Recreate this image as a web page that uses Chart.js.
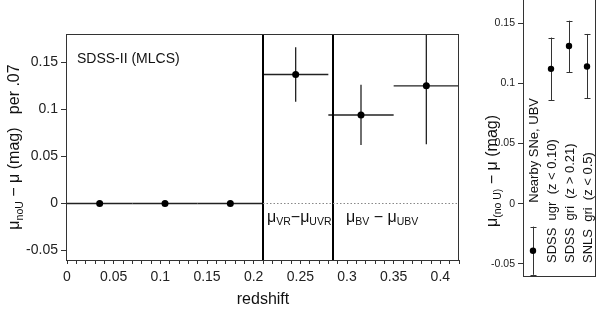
<!DOCTYPE html>
<html><head><meta charset="utf-8">
<script src="https://cdn.jsdelivr.net/npm/chart.js@4.4.0/dist/chart.umd.min.js"></script>
<style>
html,body{margin:0;padding:0;background:#fff;}
#wrap{position:relative;width:600px;height:309px;overflow:hidden;background:#fff;}
#left{position:absolute;left:0;top:0;}
#right{position:absolute;left:470px;top:-20px;}
</style></head><body>
<div id="wrap">
<canvas id="left" width="470" height="309"></canvas>
<canvas id="right" width="130" height="329"></canvas>
</div>
<script>
const FAM = '"Liberation Sans", Arial, Helvetica, sans-serif';

// ---- Left panel data (redshift bins) ----
const lowZ      = [0.035, 0.105, 0.175];
const lowMu     = [0, 0, 0];
const lowBinLo  = [0.00, 0.07, 0.14];
const lowBinHi  = [0.07, 0.14, 0.21];
const highZ     = [0.245, 0.315, 0.385];
const highMu    = [0.137, 0.094, 0.125];
const highErrLo = [0.108, 0.062, 0.063];
const highErrHi = [0.166, 0.126, 0.187];
const highBinLo = [0.21, 0.28, 0.35];
const highBinHi = [0.28, 0.35, 0.42];
const filterBreaks = [0.21, 0.285];
const xRange = [0, 0.42];
const yRange = [-0.06, 0.18];
const xTickStep = 0.01, xLabelStep = 0.05, yTickStep = 0.05;

// ---- Right panel data (samples) ----
const sampleLabels = ['Nearby SNe, UBV', 'SDSS  ugr  (z < 0.10)', 'SDSS  gri  (z > 0.21)', 'SNLS  gri  (z < 0.5)'];
const sampleMu    = [-0.039, 0.112, 0.131, 0.114];
const sampleErrLo = [-0.059, 0.086, 0.109, 0.0875];
const sampleErrHi = [-0.019, 0.138, 0.152, 0.141];
const rYRange = [-0.06, 0.175];

Chart.defaults.font.family = FAM;
Chart.defaults.color = '#222';

function fmtTick(v, step) {
  const r = Math.round(v * 1000) / 1000;
  const q = r / step;
  if (Math.abs(q - Math.round(q)) > 1e-6) return '';
  return String(Math.round(r * 100) / 100);
}

function drawRich(ctx, segs, x, y, center) {
  let w = 0;
  segs.forEach(s => { ctx.font = s.size + 'px ' + FAM; s.w = ctx.measureText(s.t).width; w += s.w; });
  let cx = center ? x - w / 2 : x;
  segs.forEach(s => { ctx.font = s.size + 'px ' + FAM; ctx.fillText(s.t, cx, y + (s.dy || 0)); cx += s.w; });
}

function seg(ctx, x0, y0, x1, y1) { ctx.beginPath(); ctx.moveTo(x0, y0); ctx.lineTo(x1, y1); ctx.stroke(); }

function strokeBox(ctx, a) {
  ctx.save();
  ctx.strokeStyle = '#333'; ctx.lineWidth = 1;
  const l = Math.round(a.left) - 0.5, t = Math.round(a.top) + 0.5;
  const r = Math.round(a.right) - 0.5, b = Math.round(a.bottom) + 0.5;
  ctx.strokeRect(l, t, r - l, b - t);
  ctx.restore();
}

const leftDecor = {
  id: 'leftDecor',
  beforeDatasetsDraw(chart) {
    const {ctx, chartArea: a, scales: {x, y}} = chart;
    ctx.save();
    ctx.beginPath(); ctx.rect(a.left, a.top, a.right - a.left, a.bottom - a.top); ctx.clip();
    ctx.strokeStyle = '#222'; ctx.lineWidth = 1.3;
    lowZ.forEach((z, i) => {
      const py = y.getPixelForValue(lowMu[i]);
      seg(ctx, x.getPixelForValue(lowBinLo[i]), py, x.getPixelForValue(lowBinHi[i]), py);
    });
    highZ.forEach((z, i) => {
      const px = x.getPixelForValue(z), py = y.getPixelForValue(highMu[i]);
      seg(ctx, x.getPixelForValue(highBinLo[i]), py, x.getPixelForValue(highBinHi[i]), py);
      seg(ctx, px, y.getPixelForValue(highErrLo[i]), px, y.getPixelForValue(highErrHi[i]));
    });
    ctx.strokeStyle = '#000'; ctx.lineWidth = 2;
    filterBreaks.forEach(b => { const px = Math.round(x.getPixelForValue(b)); seg(ctx, px, a.top, px, a.bottom); });
    ctx.restore();
  },
  afterDatasetsDraw(chart) {
    const {ctx, chartArea: a, scales: {x, y}} = chart;
    strokeBox(ctx, a);
    ctx.save();
    ctx.fillStyle = '#111'; ctx.textBaseline = 'alphabetic'; ctx.textAlign = 'left';
    ctx.font = '14px ' + FAM;
    ctx.fillText('SDSS-II (MLCS)', a.left + 10, a.top + 29);
    const y0 = y.getPixelForValue(0) + 18;
    drawRich(ctx, [{t:'μ', size:16}, {t:'VR', size:10.5, dy:3}, {t:'−μ', size:16}, {t:'UVR', size:10.5, dy:3}],
      x.getPixelForValue(filterBreaks[0]) + 4, y0, false);
    drawRich(ctx, [{t:'μ', size:16}, {t:'BV', size:10.5, dy:3}, {t:' − μ', size:16}, {t:'UBV', size:10.5, dy:3}],
      x.getPixelForValue(filterBreaks[1]) + 13, y0, false);
    // y title
    ctx.translate(19, (a.top + a.bottom) / 2);
    ctx.rotate(-Math.PI / 2);
    drawRich(ctx, [{t:'μ', size:16}, {t:'noU', size:10.5, dy:4}, {t:' − μ (mag)   per .07', size:16}], 0, 0, true);
    ctx.restore();
  }
};

new Chart(document.getElementById('left'), {
  type: 'scatter',
  data: {
    datasets: [
      { type: 'line', data: [{x: filterBreaks[0], y: 0}, {x: xRange[1], y: 0}], borderColor: '#888', borderWidth: 1,
        borderDash: [1.5, 2], pointRadius: 0, fill: false },
      { data: lowZ.map((z, i) => ({x: z, y: lowMu[i]})), pointRadius: 3.5, pointBackgroundColor: '#000', pointBorderColor: '#000', pointBorderWidth: 0 },
      { data: highZ.map((z, i) => ({x: z, y: highMu[i]})), pointRadius: 3.5, pointBackgroundColor: '#000', pointBorderColor: '#000', pointBorderWidth: 0 }
    ]
  },
  options: {
    responsive: false, animation: false, devicePixelRatio: 1,
    layout: { padding: { left: 0, right: 11, top: 34, bottom: 0 } },
    plugins: { legend: { display: false }, tooltip: { enabled: false } },
    scales: {
      x: {
        type: 'linear', min: xRange[0], max: xRange[1],
        border: { display: false },
        grid: { drawOnChartArea: false, drawTicks: true, tickLength: 4, tickColor: '#333' },
        ticks: { stepSize: xTickStep, includeBounds: false, maxTicksLimit: 100, autoSkip: false, maxRotation: 0,
                 font: { size: 14 }, color: '#222', padding: 5, callback: v => fmtTick(v, xLabelStep) },
        title: { display: true, text: 'redshift', font: { size: 16 }, color: '#111', padding: { top: 0, bottom: 0 } },
        afterFit: s => { s.height = 49; }
      },
      y: {
        type: 'linear', min: yRange[0], max: yRange[1],
        border: { display: false },
        grid: { drawOnChartArea: false, drawTicks: true, tickLength: 6, tickColor: '#333' },
        ticks: { stepSize: yTickStep, includeBounds: false, font: { size: 14 }, color: '#222', padding: 3,
                 callback: v => fmtTick(v, yTickStep) },
        afterFit: s => { s.width = 67; }
      }
    }
  },
  plugins: [leftDecor]
});

const rightDecor = {
  id: 'rightDecor',
  beforeDatasetsDraw(chart) {
    const {ctx, chartArea: a, scales: {x, y}} = chart;
    ctx.save();
    ctx.beginPath(); ctx.rect(a.left, a.top, a.right - a.left, a.bottom - a.top); ctx.clip();
    ctx.strokeStyle = '#333'; ctx.lineWidth = 1;
    sampleMu.forEach((m, i) => {
      const px = Math.round(x.getPixelForValue(i)) + 0.5;
      const y0 = y.getPixelForValue(sampleErrLo[i]), y1 = y.getPixelForValue(sampleErrHi[i]);
      seg(ctx, px, y0, px, y1);
      seg(ctx, px - 3, Math.round(y0) + 0.5, px + 3, Math.round(y0) + 0.5);
      seg(ctx, px - 3, Math.round(y1) + 0.5, px + 3, Math.round(y1) + 0.5);
    });
    ctx.restore();
  },
  afterDatasetsDraw(chart) {
    const {ctx, chartArea: a, scales: {x, y}} = chart;
    strokeBox(ctx, a);
    ctx.save();
    ctx.fillStyle = '#111'; ctx.textBaseline = 'alphabetic'; ctx.textAlign = 'left';
    ctx.font = '13px ' + FAM;
    sampleLabels.forEach((lab, i) => {
      const px = x.getPixelForValue(i) + 4.5;
      const py = i === 0 ? y.getPixelForValue(0) - 1 : a.bottom - 13;
      ctx.save(); ctx.translate(px, py); ctx.rotate(-Math.PI / 2); ctx.fillText(lab, 0, 0); ctx.restore();
    });
    ctx.translate(27, 191);
    ctx.rotate(-Math.PI / 2);
    drawRich(ctx, [{t:'μ', size:16}, {t:'(no U)', size:10.5, dy:4}, {t:' − μ (mag)', size:16}], 0, 0, true);
    ctx.restore();
  }
};

new Chart(document.getElementById('right'), {
  type: 'line',
  data: {
    labels: sampleLabels,
    datasets: [{ data: sampleMu, showLine: false, pointRadius: 3.2, pointBackgroundColor: '#000', pointBorderColor: '#000', pointBorderWidth: 0 }]
  },
  options: {
    responsive: false, animation: false, devicePixelRatio: 1,
    layout: { padding: { left: 0, right: 3, top: 13, bottom: 33 } },
    plugins: { legend: { display: false }, tooltip: { enabled: false } },
    scales: {
      x: { type: 'category', display: false, offset: true },
      y: {
        type: 'linear', min: rYRange[0], max: rYRange[1],
        border: { display: false },
        grid: { drawOnChartArea: false, drawTicks: true, tickLength: 6, tickColor: '#333' },
        ticks: { stepSize: yTickStep, includeBounds: false, font: { size: 10.5 }, color: '#222', padding: 3,
                 callback: v => fmtTick(v, yTickStep) },
        afterFit: s => { s.width = 54; }
      }
    }
  },
  plugins: [rightDecor]
});
</script>
</body></html>
